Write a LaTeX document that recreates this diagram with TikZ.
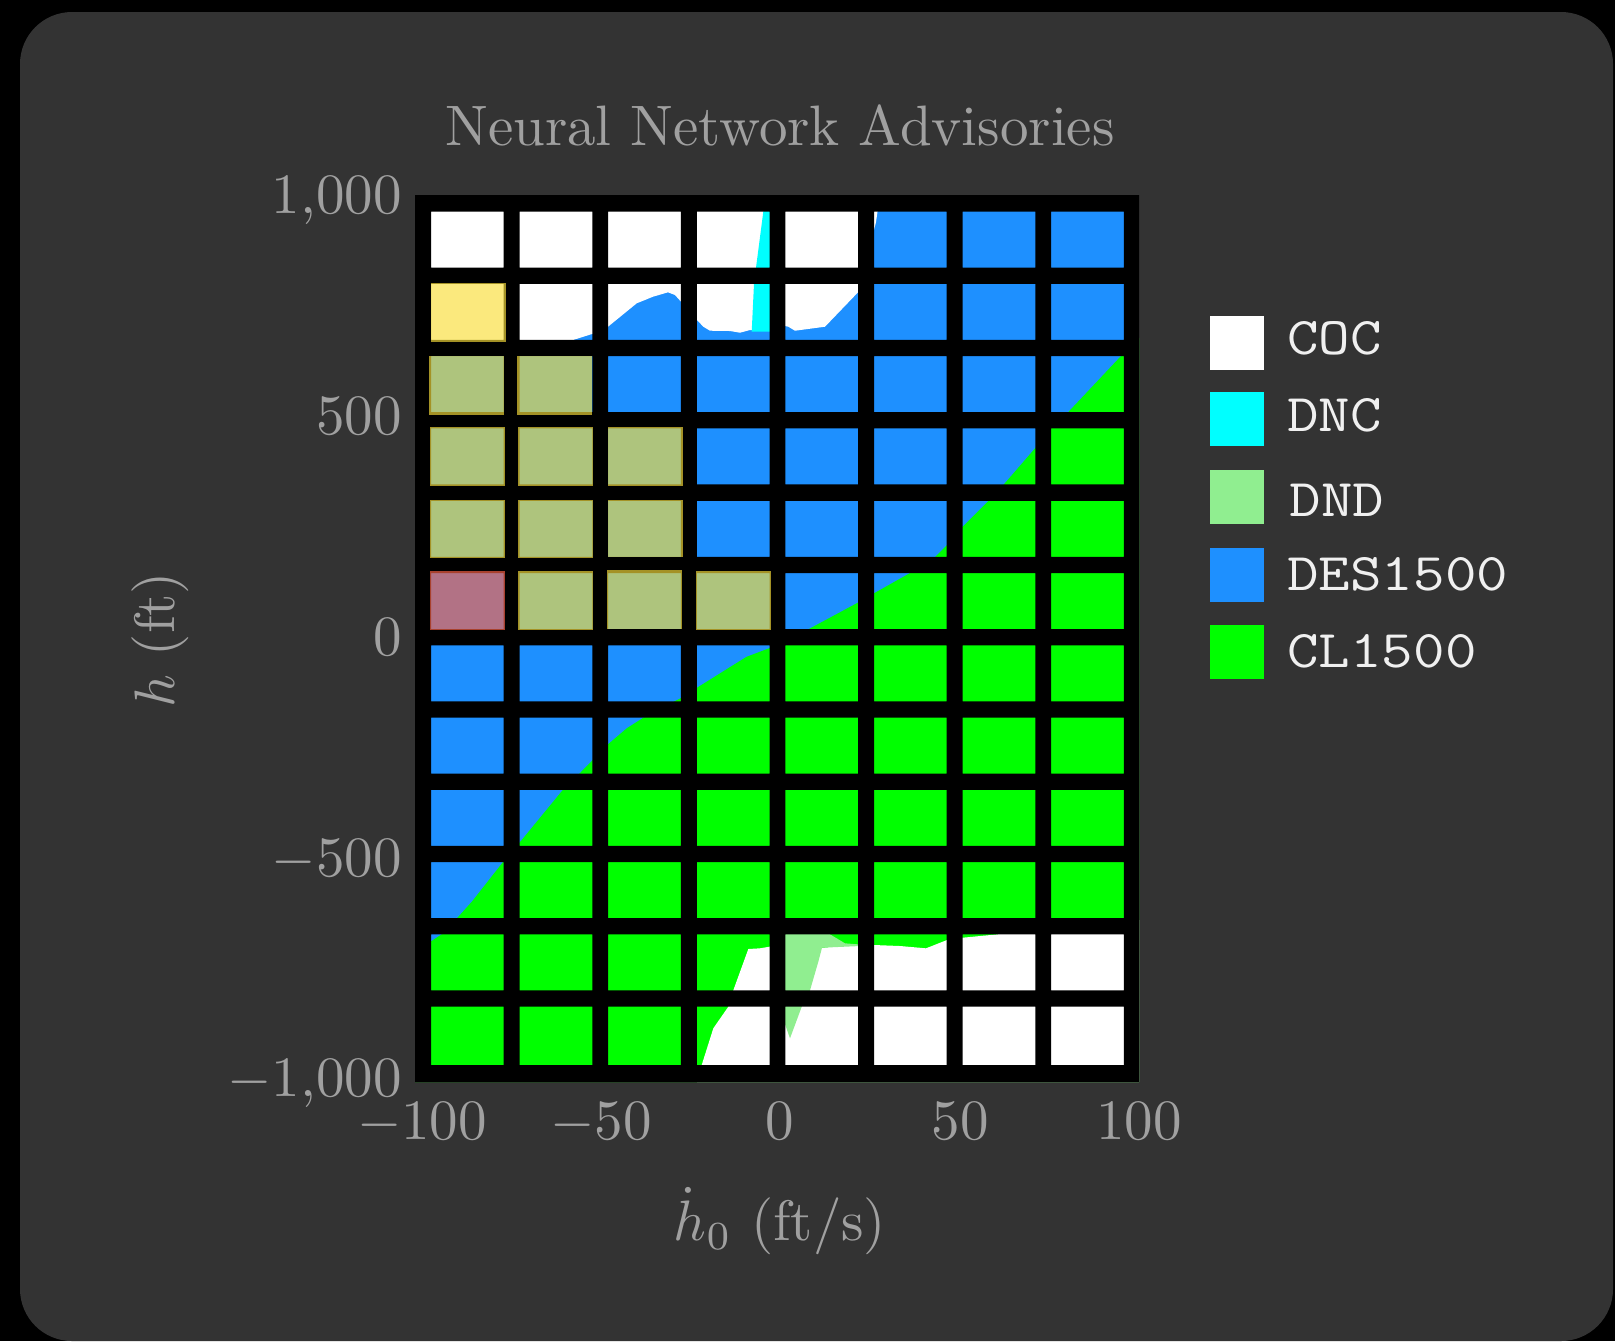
\documentclass[tikz,border=0pt]{standalone}
\usepackage{fontspec}

\definecolor{panel}{RGB}{51,51,51}
\definecolor{axisgray}{RGB}{160,160,160}
\definecolor{legwhite}{RGB}{240,240,240}
\definecolor{coc}{RGB}{255,255,255}
\definecolor{dnc}{RGB}{0,255,255}
\definecolor{dnd}{RGB}{144,238,144}
\definecolor{des}{RGB}{30,144,255}
\definecolor{cl}{RGB}{0,255,0}
\definecolor{hlgold}{RGB}{249,223,59}
\definecolor{hlred}{RGB}{255,99,71}

% labels are set at 10pt and enlarged as a whole
\newcommand{\plotlbl}[1]{\scalebox{2.85}{#1}}
\newcommand{\legword}[1]{\scalebox{1.155}[1]{#1}}

\tikzset{
  txt/.style={text=axisgray, inner sep=0pt, font=\fontsize{10}{12}\selectfont},
  legtxt/.style={text=legwhite, inner sep=0pt, anchor=base west,
    font=\ttfamily\fontsize{26.5}{30}\selectfont},
  legbox/.style={minimum size=27pt, inner sep=0pt, anchor=north west},
  hlbox/.style={fill=hlgold, fill opacity=0.66},
  hlwarn/.style={fill=hlred, fill opacity=0.66},
}

\begin{document}
\begin{tikzpicture}[x=0.5pt, y=-0.5pt]
\useasboundingbox (0,0) rectangle (1615,1341);
\fill[black] (0,0) rectangle (1615,1341);
\fill[panel, rounded corners=26pt] (20,12) rectangle (1613,1341);

% advisory regions over the (hdot, h) plane
\begin{scope}
  \clip (415,195) rectangle (1139,1082);
  \fill[des] (415,195) rectangle (1139,1082);
  % climb region below the descend boundary
  \fill[cl] (415,952) -- (442,934) -- (458.3,916.7) -- (471.8,901.7) -- (503,862)
    -- (521.7,840) -- (563.3,789.3) -- (580,773) -- (592,760.7) -- (608.3,744)
    -- (626.7,728.3) -- (643.3,717.7) -- (660,710) -- (675,701) -- (681,698)
    -- (697,687.7) -- (733.3,665) -- (746.7,656.7) -- (769,648.3) -- (808.3,629.3)
    -- (857.7,602.7) -- (874,593.3) -- (910,573) -- (935,557) -- (947,545)
    -- (962.6,526.7) -- (988.3,501) -- (1003.3,485) -- (1035,448.3) -- (1050,428)
    -- (1068.3,412) -- (1121,356) -- (1140,337) -- (1140,1082) -- (415,1082) -- cycle;
  % clear of conflict, low
  \fill[coc] (697,1082) -- (701.7,1065) -- (713.3,1028.3) -- (728.3,1006.7)
    -- (733.3,990.3) -- (748.3,949) -- (760,948.3) -- (769.3,946.7) -- (790,946)
    -- (822,947.7) -- (857.7,945) -- (874,945) -- (900,946) -- (926,948.3)
    -- (947,940) -- (962.6,937.7) -- (998,934.3) -- (1010,925) -- (1140,920)
    -- (1140,1082) -- cycle;
  % do not descend
  \fill[dnd] (776,925) -- (826,925) -- (830,934.3) -- (836.7,938.3) -- (845,943.3)
    -- (860,944.5) -- (860,946) -- (822,947.7) -- (818.3,961.7) -- (810,990.3)
    -- (801.7,1006.7) -- (790,1038.3) -- (780,1010) -- (777,960) -- cycle;
  % clear of conflict, high
  \fill[coc] (415,195) -- (880,195) -- (876,222) -- (858,292.3) -- (825,326.7)
    -- (795,330.7) -- (788.3,326.7) -- (780,325) -- (769,331) -- (750,330)
    -- (740,332.7) -- (730,331) -- (710,330.7) -- (703.3,326.7) -- (697,320)
    -- (681,301.7) -- (675,295) -- (668,292.3) -- (653,296.7) -- (636.7,303.3)
    -- (608,326.7) -- (600,333) -- (592,334) -- (573,340) -- (540,343)
    -- (415,343) -- cycle;
  % do not climb
  \fill[dnc] (766,195) -- (777,195) -- (777,331.7) -- (751.7,331.7) -- (754,283.7)
    -- (756,267.7) -- (763.3,211.7) -- cycle;
\end{scope}

% black frame with 8 x 12 windows
\fill[black, even odd rule] (415,195) rectangle (1139,1082)
  \foreach \i in {0,...,7} {
    \foreach \j in {0,...,11} {
      ({431+88.6*\i},{211.7+72.26*\j}) rectangle ++(72.7,{56+2.5*(\j==11)})
    }
  };

% highlighted input cells
\fill[hlbox] (431,283.3) rectangle (506,341.7);
\fill[hlbox] (429.3,356) rectangle (504,414.7);
\fill[hlbox] (516.7,356) rectangle (592.3,414.7);
\fill[hlbox] (430,427.3) rectangle (505,485.5);
\fill[hlbox] (518.3,427.3) rectangle (593,485.5);
\fill[hlbox] (607.7,427.3) rectangle (683.3,485.5);
\fill[hlbox] (430,499.5) rectangle (505,558.3);
\fill[hlbox] (518.3,499.5) rectangle (593,558.3);
\fill[hlbox] (607.7,499.5) rectangle (683,556.7);
\fill[hlwarn] (430,571) rectangle (505,630);
\fill[hlbox] (518.3,571) rectangle (593,630);
\fill[hlbox] (607,570) rectangle (682.3,629.3);
\fill[hlbox] (696,571) rectangle (771,630);

% title and axes
\node[txt, anchor=base] (title) at (780,145) {\plotlbl{Neural Network Advisories}};

\node[txt, anchor=base east] (yt1) at (402,213.8) {\plotlbl{$1{,}000$}};
\node[txt, anchor=base east] (yt2) at (402,434.5) {\plotlbl{$500$}};
\node[txt, anchor=base east] (yt3) at (402,655.3) {\plotlbl{$0$}};
\node[txt, anchor=base east] (yt4) at (402,876) {\plotlbl{$-500$}};
\node[txt, anchor=base east] (yt5) at (402,1096.8) {\plotlbl{$-1{,}000$}};

\node[txt, anchor=base] (xt1) at (422,1139.3) {\plotlbl{$-100$}};
\node[txt, anchor=base] (xt2) at (601,1139.3) {\plotlbl{$-50$}};
\node[txt, anchor=base] (xt3) at (780,1139.3) {\plotlbl{$0$}};
\node[txt, anchor=base] (xt4) at (960,1139.3) {\plotlbl{$50$}};
\node[txt, anchor=base] (xt5) at (1139,1139.3) {\plotlbl{$100$}};

\node[txt] (xlab) at (780,1221) {\plotlbl{$\dot{h}_0$ (ft/s)}};
\node[txt, rotate=90] (ylab) at (160,640) {\plotlbl{$h$ (ft)}};

% legend
\node[legbox, fill=coc] (kcoc) at (1210,316) {};
\node[legbox, fill=dnc] (kdnc) at (1210,392) {};
\node[legbox, fill=dnd] (kdnd) at (1210,470) {};
\node[legbox, fill=des] (kdes) at (1210,548) {};
\node[legbox, fill=cl] (kcl) at (1210,625) {};
\node[legtxt] (lcoc) at (1287,354.5) {\legword{COC}};
\node[legtxt] (ldnc) at (1287,431.5) {\legword{DNC}};
\node[legtxt] (ldnd) at (1289.5,516) {\legword{DND}};
\node[legtxt] (ldes) at (1287,590) {\legword{DES1500}};
\node[legtxt] (lcl) at (1287,667) {\legword{CL1500}};
\end{tikzpicture}
\end{document}
